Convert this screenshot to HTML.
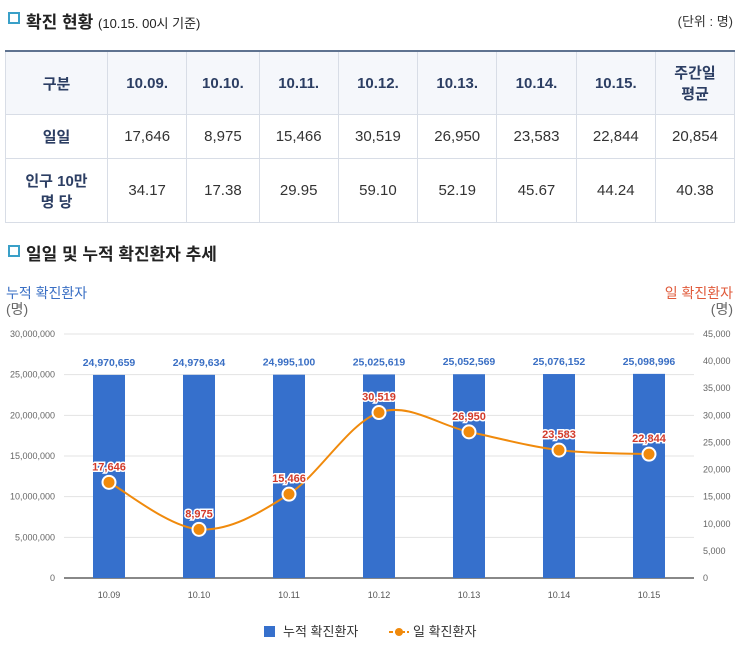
<!DOCTYPE html>
<html><head><meta charset="utf-8"><style>
body{margin:0;width:737px;height:657px;background:#fff;font-family:"Liberation Sans","Noto Sans CJK KR",sans-serif;overflow:hidden;position:relative}
.t{position:absolute}
.sq{position:absolute;width:8px;height:8px;border:2px solid #3aa0c8;background:#fff}
table{position:absolute;left:5px;top:50px;border-collapse:collapse;width:730px;font-size:15px;color:#333}
td,th{border:1px solid #d8dde6;text-align:center;padding:0}
thead th{background:#f5f7fb;color:#2c3e63;font-weight:bold;height:62px;border-top:2px solid #5f7390}
th.r{color:#2c3e63;background:#fff}
</style></head><body>
<div class="sq" style="left:8px;top:12px"></div>
<div class="t" style="left:26px;top:8px;font-size:17px;font-weight:bold;color:#222">확진 현황 <span style="font-size:13px;font-weight:normal">(10.15. 00시 기준)</span></div>
<div class="t" style="right:4px;top:11px;font-size:13px;color:#333">(단위 : 명)</div>
<table>
<thead><tr><th style="width:101px">구분</th><th>10.09.</th><th>10.10.</th><th>10.11.</th><th>10.12.</th><th>10.13.</th><th>10.14.</th><th>10.15.</th><th style="width:78px">주간일<br>평균</th></tr></thead>
<tbody><tr style="height:44px"><th class="r">일일</th><td>17,646</td><td>8,975</td><td>15,466</td><td>30,519</td><td>26,950</td><td>23,583</td><td>22,844</td><td>20,854</td></tr>
<tr style="height:64px"><th class="r">인구 10만<br>명 당</th><td>34.17</td><td>17.38</td><td>29.95</td><td>59.10</td><td>52.19</td><td>45.67</td><td>44.24</td><td>40.38</td></tr></tbody>
</table>
<div class="sq" style="left:8px;top:245px"></div>
<div class="t" style="left:26px;top:240px;font-size:17px;font-weight:bold;color:#222">일일 및 누적 확진환자 추세</div>
<svg class="t" style="left:0;top:0" width="737" height="657" id="c"></svg>
<script>
const categories=["10.09","10.10","10.11","10.12","10.13","10.14","10.15"];
const cumulative=[24970659,24979634,24995100,25025619,25052569,25076152,25098996];
const daily=[17646,8975,15466,30519,26950,23583,22844];
const leftTicks=[0,5000000,10000000,15000000,20000000,25000000,30000000];
const rightTicks=[0,5000,10000,15000,20000,25000,30000,35000,40000,45000];
const svg=document.getElementById('c');const NS='http://www.w3.org/2000/svg';
function el(t,a,p){const e=document.createElementNS(NS,t);for(const k in a)e.setAttribute(k,a[k]);(p||svg).appendChild(e);return e;}
const x0=64,x1=694,yb=578,yt=334;
const yL=v=>yb-(v/30000000)*(yb-yt), yR=v=>yb-(v/45000)*(yb-yt);
const xc=i=>x0+(i+0.5)*(x1-x0)/categories.length;
const f=n=>n.toLocaleString('en-US');
let e;
e=el('text',{x:6,y:298,'font-size':14,fill:'#3a6fc4'});e.textContent='누적 확진환자';

e=el('text',{x:6,y:314,'font-size':14,fill:'#666'});e.textContent='(명)';
e=el('text',{x:733,y:298,'font-size':14,fill:'#e05a3a','text-anchor':'end'});e.textContent='일 확진환자';

e=el('text',{x:733,y:314,'font-size':14,fill:'#666','text-anchor':'end'});e.textContent='(명)';
leftTicks.forEach(v=>{const y=yL(v);
 const g=el('line',{x1:x0,x2:x1,y1:y,y2:y,stroke:'#e3e3e3'});
 
 const t=el('text',{x:55,y:y+3,'font-size':9,fill:'#666','text-anchor':'end'});t.textContent=f(v);
 });
rightTicks.forEach(v=>{const t=el('text',{x:703,y:yR(v)+3,'font-size':9,fill:'#666'});t.textContent=f(v);
 });
el('line',{x1:x0,x2:x1,y1:yb,y2:yb,stroke:'#111'});
cumulative.forEach((v,i)=>{const x=xc(i);
 const b=el('rect',{x:x-16,y:yL(v),width:32,height:yb-yL(v),fill:'#3670cc'});
 
 const t=el('text',{x:x,y:yL(v)-9,'font-size':10.5,'font-weight':'bold',fill:'#3a6fc4','text-anchor':'middle'});t.textContent=f(v);
 
 const c=el('text',{x:x,y:598,'font-size':9,fill:'#555','text-anchor':'middle'});c.textContent=categories[i];
 });
const pts=daily.map((v,i)=>[xc(i),yR(v)]);
let d='M'+pts[0];
for(let i=0;i<pts.length-1;i++){const p0=pts[Math.max(0,i-1)],p1=pts[i],p2=pts[i+1],p3=pts[Math.min(pts.length-1,i+2)];
 d+=` C${p1[0]+(p2[0]-p0[0])/6},${p1[1]+(p2[1]-p0[1])/6} ${p2[0]-(p3[0]-p1[0])/6},${p2[1]-(p3[1]-p1[1])/6} ${p2[0]},${p2[1]}`;}
const ln=el('path',{d:d,fill:'none',stroke:'#f08a0c','stroke-width':2});

daily.forEach((v,i)=>{const [x,y]=pts[i];
 const c=el('circle',{cx:x,cy:y,r:6.5,fill:'#f08a0c',stroke:'#fff','stroke-width':2});
 
 const t=el('text',{x:x,y:y-12,'font-size':11,'font-weight':'bold',fill:'#d23a2a','text-anchor':'middle',stroke:'#fff','stroke-width':3,'paint-order':'stroke'});t.textContent=f(v);
 });
e=el('rect',{x:264,y:626,width:11,height:11,fill:'#3670cc'});

e=el('text',{x:283,y:636,'font-size':13,fill:'#333'});e.textContent='누적 확진환자';
e=el('line',{x1:389,x2:409,y1:632,y2:632,stroke:'#f08a0c','stroke-width':2,'stroke-dasharray':'4,2'});

el('circle',{cx:399,cy:632,r:4,fill:'#f08a0c'});
e=el('text',{x:413,y:636,'font-size':13,fill:'#333'});e.textContent='일 확진환자';
</script>
</body></html>
